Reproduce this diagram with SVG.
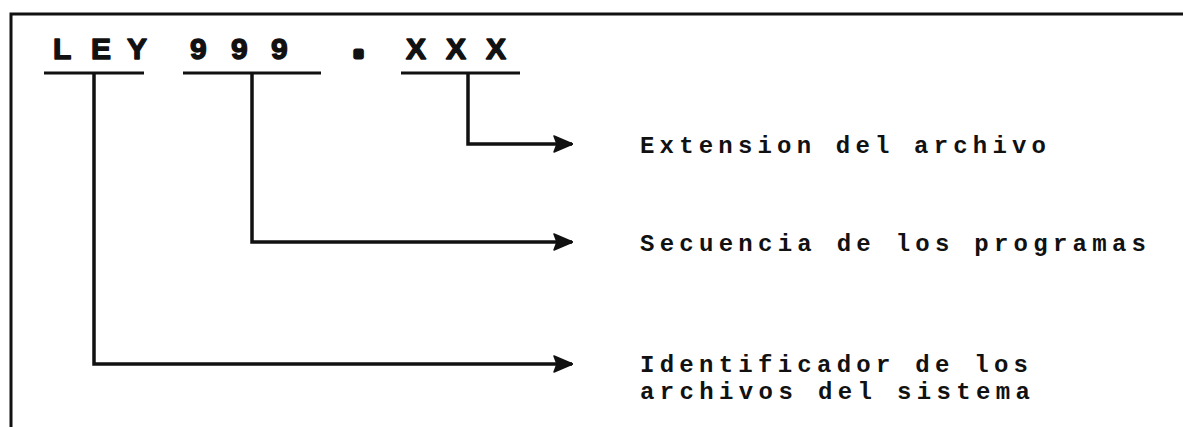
<svg xmlns="http://www.w3.org/2000/svg" width="1183" height="427" viewBox="0 0 1183 427">
<style>
.frame{fill:none;stroke:#111;stroke-width:3}
.ln{fill:none;stroke:#111;stroke-width:3.5;stroke-linejoin:miter}
.ul{fill:none;stroke:#111;stroke-width:3}
.title{font-family:"Liberation Sans",Arial,sans-serif;font-weight:bold;font-size:30px;fill:#111;stroke:#111;stroke-width:1.4;stroke-linejoin:round}
.dot{font-size:40px;stroke-width:5}
.lbl{font-family:"Liberation Mono","DejaVu Sans Mono",monospace;font-weight:bold;font-size:24px;fill:#111}
</style>
<defs>
<marker id="ah" viewBox="0 0 20 18" refX="19" refY="9" markerWidth="20" markerHeight="18" markerUnits="userSpaceOnUse" orient="auto">
<path d="M1,1 L20,9 L1,17 L4,9 Z" fill="#111" stroke="#111" stroke-width="1.5" stroke-linejoin="round"/>
</marker>
</defs>
<rect width="1183" height="427" fill="#fff"/>
<g id="frame">
<path class="frame" d="M11,427 V14 H1183"/>
</g>
<g id="title">
<text class="title" y="59"><tspan x="53">L</tspan><tspan x="91">E</tspan><tspan x="127">Y </tspan><tspan x="190">9</tspan><tspan x="231">9</tspan><tspan x="271">9 </tspan><tspan x="353" y="57" class="dot">. </tspan><tspan x="406" y="59">X</tspan><tspan x="446">X</tspan><tspan x="486">X</tspan></text>
<path class="ul" d="M44,73 H144 M183,73 H321 M401,73 H520"/>
</g>
<g id="node-extension">
<text class="lbl" x="640" y="153" textLength="406" lengthAdjust="spacing">Extension del archivo</text>
</g>
<g id="node-secuencia">
<text class="lbl" x="640" y="251" textLength="506" lengthAdjust="spacing">Secuencia de los programas</text>
</g>
<g id="node-identificador">
<text class="lbl" x="640" y="372"><tspan x="640" textLength="388" lengthAdjust="spacing">Identificador de los</tspan><tspan x="640" y="399" textLength="390" lengthAdjust="spacing">archivos del sistema</tspan></text>
</g>
<g id="connectors">
<path class="ln" d="M468,73 V144 H572" marker-end="url(#ah)"/>
<path class="ln" d="M252,73 V242 H572" marker-end="url(#ah)"/>
<path class="ln" d="M94,73 V364 H572" marker-end="url(#ah)"/>
</g>
</svg>
